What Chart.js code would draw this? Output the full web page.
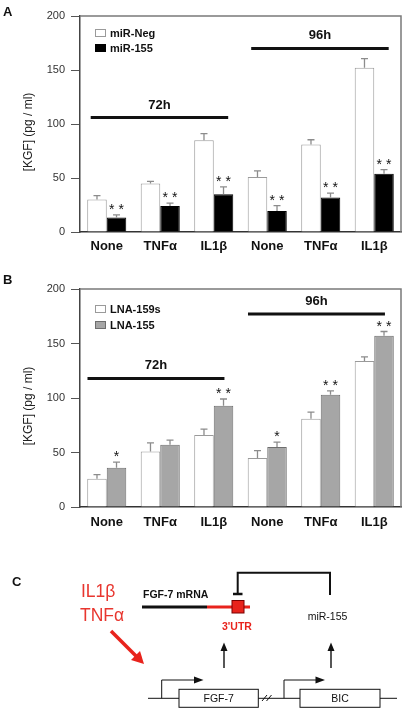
<!DOCTYPE html>
<html>
<head>
<meta charset="utf-8">
<script src="https://cdn.jsdelivr.net/npm/chart.js@4.4.1/dist/chart.umd.min.js"></script>
<style>
body{margin:0;background:#fff;width:406px;height:712px;position:relative;overflow:hidden;font-family:"Liberation Sans",Arial,sans-serif;}
.box{position:absolute;left:0;width:406px;}
.tag{position:absolute;font-weight:bold;font-size:13px;color:#111;}
</style>
</head>
<body>
<div class="box" style="top:0;height:270px"><canvas id="chartA"></canvas></div>
<div class="box" style="top:273px;height:262px"><canvas id="chartB"></canvas></div>
<div class="tag" style="left:3px;top:4px">A</div>
<div class="tag" style="left:3px;top:272px">B</div>

<svg class="box" style="top:530px" width="406" height="182" viewBox="0 530 406 182" font-family="'Liberation Sans', Arial, sans-serif">
  <text x="12" y="586" font-weight="bold" font-size="13" fill="#111">C</text>
  <text x="81" y="597" font-size="17.5" fill="#e8362f">IL1β</text>
  <text x="80" y="620.5" font-size="17.5" fill="#e8362f">TNFα</text>
  <line x1="111" y1="631" x2="137" y2="657" stroke="#e8231c" stroke-width="3.5"/>
  <polygon points="144,664 131,660 140,651" fill="#e8231c"/>

  <text x="143" y="598" font-size="10.5" font-weight="bold" fill="#111">FGF-7 mRNA</text>
  <line x1="142" y1="607" x2="207" y2="607" stroke="#111" stroke-width="3"/>
  <line x1="207" y1="607" x2="250" y2="607" stroke="#e8231c" stroke-width="3"/>
  <rect x="232" y="600.5" width="12" height="12.5" fill="#e8231c" stroke="#7a0000" stroke-width="1"/>
  <path d="M237.7,593 V572.7 H330 V595" fill="none" stroke="#111" stroke-width="2"/>
  <line x1="233" y1="594" x2="242.5" y2="594" stroke="#111" stroke-width="2.5"/>
  <text x="237" y="630" font-size="10.5" font-weight="bold" fill="#e8231c" text-anchor="middle">3'UTR</text>
  <text x="327.5" y="620" font-size="10.5" fill="#111" text-anchor="middle">miR-155</text>

  <line x1="224" y1="668" x2="224" y2="650" stroke="#111" stroke-width="1.4"/>
  <polygon points="224,642.5 220.5,651 227.5,651" fill="#111"/>
  <line x1="331" y1="668" x2="331" y2="650" stroke="#111" stroke-width="1.4"/>
  <polygon points="331,642.5 327.5,651 334.5,651" fill="#111"/>

  <line x1="148" y1="698.3" x2="397" y2="698.3" stroke="#111" stroke-width="1"/>
  <line x1="262" y1="701" x2="267" y2="695" stroke="#111" stroke-width="1"/>
  <line x1="266.5" y1="701" x2="271.5" y2="695" stroke="#111" stroke-width="1"/>
  <rect x="179" y="689.3" width="79.3" height="18" fill="#fff" stroke="#111" stroke-width="1"/>
  <text x="218.7" y="702" font-size="10.5" fill="#111" text-anchor="middle">FGF-7</text>
  <rect x="300" y="689.3" width="80" height="18" fill="#fff" stroke="#111" stroke-width="1"/>
  <text x="340" y="702" font-size="10.5" fill="#111" text-anchor="middle">BIC</text>
  <path d="M161.7,698.3 V680 H195" fill="none" stroke="#111" stroke-width="1"/>
  <polygon points="203.5,680 194,676.5 194,683.5" fill="#111"/>
  <path d="M284,698.3 V680 H316" fill="none" stroke="#111" stroke-width="1"/>
  <polygon points="325,680 315.5,676.5 315.5,683.5" fill="#111"/>
</svg>

<script>
const categories = ['None', 'TNFα', 'IL1β', 'None', 'TNFα', 'IL1β'];
const periods = ['72h', '96h'];
const periodGroups = [[0, 2], [3, 5]];
const yTicks = [0, 50, 100, 150, 200];

// panel A
const seriesA = ['miR-Neg', 'miR-155'];
const negA = [30, 45, 85, 51, 81, 152];
const negErrA = [3.7, 1.8, 6.1, 5.6, 4.4, 8.5];
const mirA = [13.4, 24, 35, 19.5, 32, 54];
const mirErrA = [2.4, 2.8, 6.8, 5, 4, 3.7];
const starsA = ['**', '**', '**', '**', '**', '**'];
const periodLevelA = [106, 170];

// panel B
const seriesB = ['LNA-159s', 'LNA-155'];
const ctrlB = [26, 51, 66, 45, 81, 134];
const ctrlErrB = [3.7, 7.9, 5.4, 6.7, 6.1, 3.7];
const lnaB = [36, 57, 93, 55, 103, 157];
const lnaErrB = [5.2, 4.3, 6.1, 4.6, 3.6, 4];
const starsB = ['*', '', '**', '*', '**', '**'];
const periodLevelB = [118, 177];

const NARROW = '"Liberation Sans Narrow", "Arial Narrow", "Liberation Sans", sans-serif';

// frame, error bars, stars, period lines, legend, y title
const extras = {
    id: 'extras',
    afterDatasetsDraw(chart, args, opts) {
        const ctx = chart.ctx;
        const {left, right, top, bottom} = chart.chartArea;
        const x = chart.scales.x, y = chart.scales.y;
        ctx.save();

        ctx.strokeStyle = '#7a7a7a';
        ctx.lineWidth = 1.5;
        ctx.beginPath();
        ctx.moveTo(left, top);
        ctx.lineTo(right, top);
        ctx.lineTo(right, bottom);
        ctx.stroke();

        chart.data.datasets.forEach((ds, di) => {
            const meta = chart.getDatasetMeta(di);
            meta.data.forEach((bar, i) => {
                const yErr = y.getPixelForValue(ds.data[i] + ds.errors[i]);
                ctx.strokeStyle = '#8c8c8c';
                ctx.lineWidth = 1.3;
                ctx.beginPath();
                ctx.moveTo(bar.x, bar.y);
                ctx.lineTo(bar.x, yErr);
                ctx.moveTo(bar.x - 3.5, yErr);
                ctx.lineTo(bar.x + 3.5, yErr);
                ctx.stroke();
                if (ds.stars && ds.stars[i]) {
                    ctx.fillStyle = '#111';
                    ctx.font = '14px "Liberation Sans", Arial, sans-serif';
                    ctx.textAlign = 'center';
                    ctx.textBaseline = 'alphabetic';
                    ctx.fillText(ds.stars[i].split('').join(' '), bar.x, yErr - 1);
                }
            });
        });

        const step = x.getPixelForValue(1) - x.getPixelForValue(0);
        opts.levels.forEach((lvl, k) => {
            const [a, b] = periodGroups[k];
            const x0 = x.getPixelForValue(a) + opts.from * step;
            const x1 = x.getPixelForValue(b) + opts.to * step;
            const py = y.getPixelForValue(lvl);
            ctx.strokeStyle = '#111';
            ctx.lineWidth = 3;
            ctx.beginPath();
            ctx.moveTo(x0, py);
            ctx.lineTo(x1, py);
            ctx.stroke();
            ctx.fillStyle = '#111';
            ctx.font = 'bold 13px ' + NARROW;
            ctx.textAlign = 'center';
            ctx.textBaseline = 'middle';
            ctx.fillText(periods[k], (x0 + x1) / 2, py - 12.5);
        });

        chart.data.datasets.forEach((ds, di) => {
            const ly = top + opts.legendTop + di * opts.legendStep;
            ctx.fillStyle = ds.backgroundColor;
            ctx.fillRect(left + 15, ly, 11, 8);
            ctx.strokeStyle = ds.borderColor;
            ctx.lineWidth = 1;
            ctx.strokeRect(left + 15.5, ly + 0.5, 10, 7);
            ctx.fillStyle = '#111';
            ctx.font = 'bold 11px ' + NARROW;
            ctx.textAlign = 'left';
            ctx.textBaseline = 'middle';
            ctx.fillText(ds.label, left + 30, ly + 4.5);
        });

        ctx.translate(29, (top + bottom) / 2 + 8);
        ctx.rotate(-Math.PI / 2);
        ctx.fillStyle = '#222';
        ctx.font = '12px ' + NARROW;
        ctx.textAlign = 'center';
        ctx.textBaseline = 'middle';
        ctx.fillText('[KGF] (pg / ml)', 0, 0);
        ctx.restore();
    }
};

let ViewChart = function (el, d) {
    const ds = d.series.map((name, k) => ({
        label: name,
        data: d.values[k],
        errors: d.errors[k],
        stars: d.stars[k],
        backgroundColor: d.colors[k][0],
        borderColor: d.colors[k][1],
        borderWidth: 1,
        barPercentage: 1,
        categoryPercentage: 0.73
    }));

    const config = {
        type: 'bar',
        data: {labels: categories, datasets: ds},
        plugins: [extras],
        options: {
            animation: false,
            responsive: true,
            maintainAspectRatio: false,
            layout: {padding: {left: 0, right: 5, top: 16, bottom: 0}},
            scales: {
                x: {
                    grid: {display: false, drawTicks: false},
                    border: {display: true, color: '#333', width: 1.5},
                    ticks: {font: {family: NARROW, size: 13, weight: 'bold'}, color: '#111', padding: d.labelPad},
                    afterFit: s => { s.height = d.axisH; }
                },
                y: {
                    min: 0,
                    max: 200,
                    afterBuildTicks: s => { s.ticks = yTicks.map(v => ({value: v})); },
                    grid: {drawOnChartArea: false, tickLength: 9, color: '#555', lineWidth: 1},
                    border: {color: '#444', width: 1.5},
                    ticks: {font: {family: NARROW, size: 11}, color: '#333', padding: 6},
                    afterFit: s => { s.width = 80; }
                }
            },
            plugins: {
                legend: {display: false},
                tooltip: {enabled: false},
                extras: {levels: d.levels, from: d.from, to: d.to, legendTop: d.legendTop, legendStep: d.legendStep}
            }
        }
    };

    return new Chart(el.getContext('2d'), config);
};

new ViewChart(document.getElementById('chartA'), {
    series: seriesA,
    values: [negA, mirA],
    errors: [negErrA, mirErrA],
    stars: [null, starsA],
    colors: [['#ffffff', '#9a9a9a'], ['#000000', '#000000']],
    levels: periodLevelA,
    from: -0.3, to: 0.27,
    legendTop: 13, legendStep: 15,
    axisH: 38, labelPad: 7
});

new ViewChart(document.getElementById('chartB'), {
    series: seriesB,
    values: [ctrlB, lnaB],
    errors: [ctrlErrB, lnaErrB],
    stars: [null, starsB],
    colors: [['#ffffff', '#9a9a9a'], ['#a6a6a6', '#6e6e6e']],
    levels: periodLevelB,
    from: -0.36, to: 0.2,
    legendTop: 16, legendStep: 16,
    axisH: 28, labelPad: 8
});
</script>
</body>
</html>
